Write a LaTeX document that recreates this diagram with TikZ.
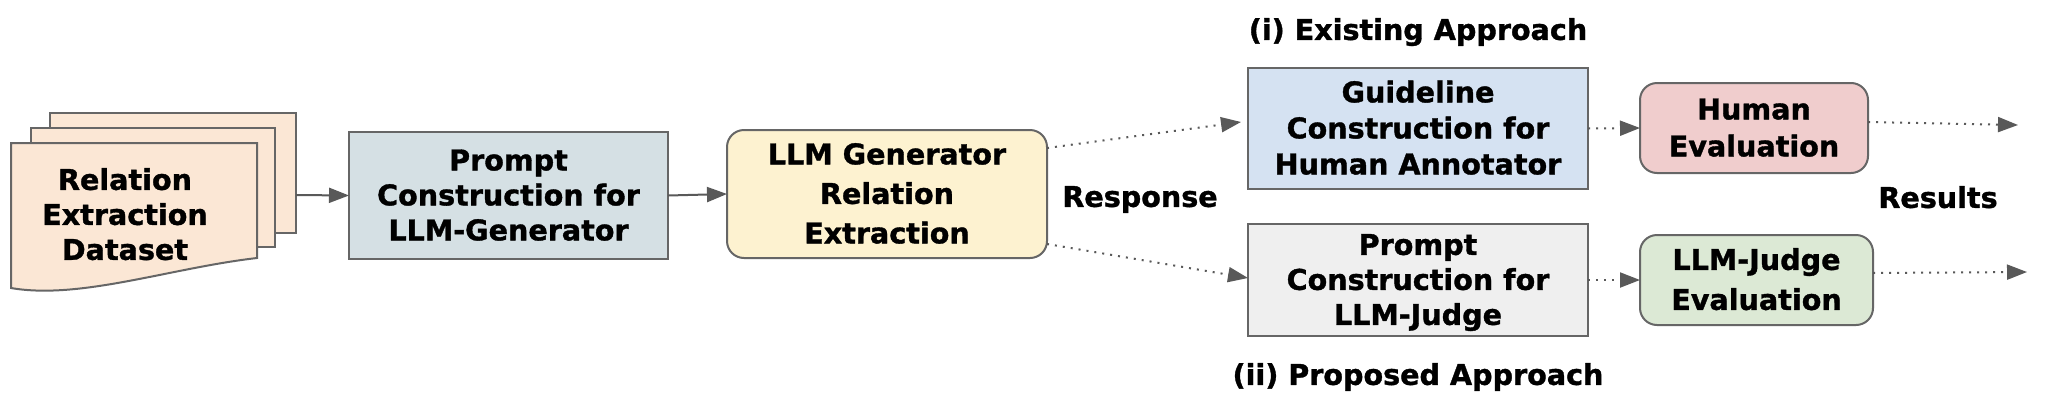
\documentclass[tikz,border=0pt]{standalone}
\usepackage{fontspec}
\setmainfont{DejaVu Sans}[BoldFeatures={FakeBold=1.2}]
\usetikzlibrary{arrows.meta}
\definecolor{docfill}{HTML}{FBE7D5}
\definecolor{pgfill}{HTML}{D5E0E4}
\definecolor{llmfill}{HTML}{FDF2D0}
\definecolor{glfill}{HTML}{D5E2F2}
\definecolor{jpfill}{HTML}{EFEFEF}
\definecolor{hufill}{HTML}{F0CDCD}
\definecolor{ljfill}{HTML}{DCE9D5}
\definecolor{strokegray}{HTML}{666666}
\definecolor{arrowgray}{HTML}{595959}
\newcommand\ls{\rule[-6.75pt]{0pt}{33.25pt}}
\begin{document}
\begin{tikzpicture}[x=1pt,y=-1pt,
  txt/.style={align=center, inner sep=0pt, outer sep=0pt, text=black,
    font=\fontsize{28.6pt}{35pt}\selectfont\bfseries},
  box/.style={txt, draw=strokegray, line width=2pt},
  rbox/.style={box, rounded corners=17pt},
  sheet/.style={draw=strokegray, line width=2pt, fill=docfill, inner sep=0pt, outer sep=0pt},
  arr/.style={line width=2pt, draw=arrowgray, -{Triangle[length=20pt,width=15pt,fill=arrowgray]}},
  dotarr/.style={arr, dash pattern=on 2pt off 6pt}]
\fill[white] (0,0) rectangle (2050,416);
\useasboundingbox (0,0) rectangle (2050,416);
% document stack
\node[sheet, minimum width=246pt, minimum height=120pt] (s3) at (173,173) {};
\node[sheet, minimum width=244pt, minimum height=119pt] (s2) at (153,187.5) {};
\draw[sheet] (11,143) -- (257,143) -- (257,258)
  .. controls (170,268) and (80,300) .. (11,288) -- cycle;
\node[txt] (ds) at (125,215) {\ls Relation\\\ls Extraction\\\ls Dataset};
% main boxes
\node[box, fill=pgfill, minimum width=319pt, minimum height=127pt] (pg) at (508.5,195.5)
  {\ls Prompt\\\ls Construction for\\\ls LLM-Generator};
\node[rbox, fill=llmfill, minimum width=320pt, minimum height=128pt,
  font=\fontsize{28.6pt}{39.5pt}\selectfont\bfseries] (llm) at (887,194)
  {\ls LLM Generator\\\ls Relation\\\ls Extraction};
\node[box, fill=glfill, minimum width=340pt, minimum height=121pt,
  font=\fontsize{28.6pt}{36pt}\selectfont\bfseries] (gl) at (1418,128.5)
  {\ls Guideline\\\ls Construction for\\\ls Human Annotator};
\node[box, fill=jpfill, minimum width=340pt, minimum height=112pt] (jp) at (1418,280)
  {\ls Prompt\\\ls Construction for\\\ls LLM-Judge};
\node[rbox, fill=hufill, minimum width=228pt, minimum height=90pt,
  font=\fontsize{28.6pt}{37pt}\selectfont\bfseries] (hu) at (1754,128)
  {\ls Human\\\ls Evaluation};
\node[rbox, fill=ljfill, minimum width=233pt, minimum height=90pt,
  font=\fontsize{28.6pt}{40pt}\selectfont\bfseries] (lj) at (1756.5,280)
  {\ls LLM-Judge\\\ls Evaluation};
% labels
\node[txt] (resp) at (1140,197) {\ls Response};
\node[txt] (res) at (1938,198) {\ls Results};
\node[txt] (t1) at (1418,30) {\ls (i) Existing Approach};
\node[txt] (t2) at (1418,375) {\ls (ii) Proposed Approach};
% connectors
\coordinate (hr) at (2018,125);
\coordinate (lr) at (2027,272);
\draw[arr] ([yshift=-22pt]s3.east) -- (pg.west);
\draw[arr] (pg.west -| pg.east) -- (llm.west);
\draw[dotarr] ([yshift=46pt]llm.east) -- ([xshift=-7pt,yshift=6.5pt]gl.west);
\draw[dotarr] ([yshift=-50pt]llm.east) -- ([yshift=2pt]jp.west);
\draw[dotarr] (gl.east) -- (hu.west);
\draw[dotarr] (jp.east) -- (lj.west);
\draw[dotarr] ([yshift=6pt]hu.east) -- (hr);
\draw[dotarr] ([yshift=7pt]lj.east) -- (lr);
\end{tikzpicture}
\end{document}
